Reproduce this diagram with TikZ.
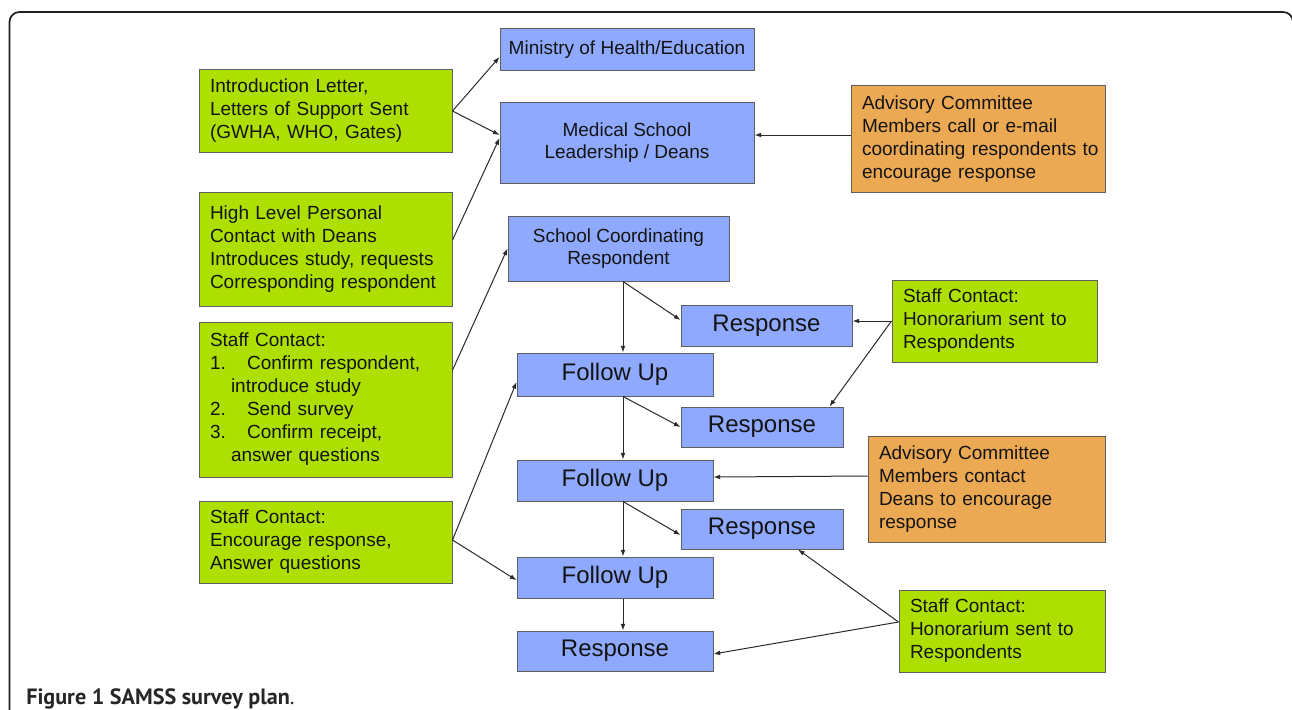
\documentclass[tikz,border=0pt]{standalone}
\usepackage{fontspec}
\setmainfont{Liberation Sans}
\newfontfamily\capfont{PT Sans}
\usetikzlibrary{arrows.meta}
\definecolor{boxgreen}{HTML}{ADE000}
\definecolor{boxblue}{HTML}{8FA9FF}
\definecolor{boxorange}{HTML}{ECA954}
\definecolor{boxline}{HTML}{5F5F5F}
\definecolor{arrline}{HTML}{2A2A2A}
\tikzset{
  base/.style={draw=boxline, line width=0.75pt, inner ysep=0pt, text=black!92,
    font=\fontsize{14.25pt}{17.25pt}\selectfont},
  lbox/.style={base, align=left, inner xsep=8.25pt},
  gbox/.style={lbox, fill=boxgreen},
  obox/.style={lbox, fill=boxorange},
  bbox/.style={base, fill=boxblue, align=center, inner xsep=0pt,
    font=\fontsize{14.25pt}{16.5pt}\selectfont},
  big/.style={bbox, font=\fontsize{18pt}{21pt}\selectfont},
  arr/.style={draw=arrline, line width=0.75pt, -{Latex[length=5pt,width=3.6pt]}},
  frame/.style={draw=black!88, line width=1.3pt, rounded corners=7.5pt}
}
\begin{document}
\begin{tikzpicture}[x=0.75pt,y=-0.75pt]
\useasboundingbox (0,0) rectangle (1292,710);
\draw[frame] (9.5,800) -- (9.5,12) -- (1293,12) -- (1293,800);

% left green boxes
\node[gbox, text width=173.25pt, minimum height=61.5pt] (g1) at (325.5,111)
  {Introduction Letter,\\Letters of Support Sent\\(GWHA, WHO, Gates)};
\node[gbox, text width=173.25pt, minimum height=85.5pt] (g2) at (325.5,249)
  {High Level Personal\\Contact with Deans\\Introduces study, requests\\Corresponding respondent};
\node[gbox, text width=173.25pt, minimum height=116.25pt] (g3) at (325.5,399.5)
  {Staff Contact:\\1.\hspace*{15.9pt}Confirm respondent,\\\hspace*{15.75pt}introduce study\\2.\hspace*{15.9pt}Send survey\\3.\hspace*{15.9pt}Confirm receipt,\\\hspace*{15.75pt}answer questions};
\node[gbox, text width=173.25pt, minimum height=61.5pt] (g4) at (325.5,542)
  {Staff Contact:\\Encourage response,\\Answer questions};

% blue boxes
\node[bbox, minimum width=190.5pt, minimum height=31.5pt] (min) at (627,50) {Ministry of Health/Education};
\node[bbox, minimum width=190.5pt, minimum height=60pt] (med) at (627,143) {Medical School\\Leadership / Deans};
\node[bbox, minimum width=165.75pt, minimum height=48.75pt] (scr) at (618.5,248.5) {School Coordinating\\Respondent};
\node[big, minimum width=128.25pt, minimum height=30.75pt] (r1) at (766.5,325.5) {Response};
\node[big, minimum width=147pt, minimum height=32.25pt] (f1) at (615,374.5) {Follow Up};
\node[big, minimum width=121.5pt, minimum height=30pt] (r2) at (762,427) {Response};
\node[big, minimum width=147pt, minimum height=30.75pt] (f2) at (615,480.5) {Follow Up};
\node[big, minimum width=121.5pt, minimum height=30pt] (r3) at (762,529) {Response};
\node[big, minimum width=147pt, minimum height=30.75pt] (f3) at (615,577.5) {Follow Up};
\node[big, minimum width=147pt, minimum height=30pt] (r4) at (615,651) {Response};

% right boxes
\node[obox, text width=174pt, minimum height=79.5pt] (o1) at (978,139)
  {Advisory Committee\\Members call or e-mail\\\mbox{coordinating respondents to}\\encourage response};
\node[gbox, text width=137.25pt, minimum height=61.5pt] (gr1) at (994.5,321)
  {Staff Contact:\\Honorarium sent to\\Respondents};
\node[obox, text width=161.25pt, minimum height=79.5pt] (o2) at (986.5,489)
  {Advisory Committee\\Members contact\\Deans to encourage\\response};
\node[gbox, text width=138pt, minimum height=61.5pt] (gr2) at (1002,631)
  {Staff Contact:\\Honorarium sent to\\Respondents};

\coordinate (cx) at (623,0);

% connectors
\draw[arr] (g1.east) -- ([yshift=-5.25pt]min.west);
\draw[arr] (g1.east) -- ([yshift=6pt]med.west);
\draw[arr] ([yshift=6.75pt]g2.east) -- ([yshift=3.75pt]med.west);
\draw[arr] ([yshift=22pt]g3.east) -- (scr.west);
\draw[arr] ([yshift=1.5pt]g4.east) -- ([yshift=-5.6pt]f1.west);
\draw[arr] ([yshift=1.5pt]g4.east) -- ([yshift=-2pt]f3.west);
\draw[arr] ([yshift=3pt]o1.west) -- ([yshift=6pt]med.east);

\draw[arr] (scr.south -| cx) -- (f1.north -| cx);
\draw[arr] (scr.south -| cx) -- ([yshift=4.1pt]r1.west);
\draw[arr] (f1.south -| cx) -- (f2.north -| cx);
\draw[arr] (f1.south -| cx) -- (r2.west);
\draw[arr] (f2.south -| cx) -- (f3.north -| cx);
\draw[arr] (f2.south -| cx) -- ([yshift=-4.5pt]r3.west);
\draw[arr] (f3.south -| cx) -- (r4.north -| cx);

\draw[arr] (gr1.west) -- (r1.east |- gr1.west);
\draw[arr] (gr1.west) -- ([xshift=-10.5pt]r2.north east);
\draw[arr] ([yshift=9.75pt]o2.west) -- ([yshift=2.6pt]f2.east);
\draw[arr] ([yshift=6.75pt]gr2.west) -- ([xshift=27pt]r3.south);
\draw[arr] ([yshift=6.75pt]gr2.west) -- ([yshift=-2.25pt]r4.east);

% caption
\node[anchor=base west, inner sep=0pt, font=\capfont\fontsize{16.6pt}{19pt}\selectfont, text=black!85] (cap) at (26,704)
  {\textbf{Figure 1 SAMSS survey plan}.};
\end{tikzpicture}
\end{document}
